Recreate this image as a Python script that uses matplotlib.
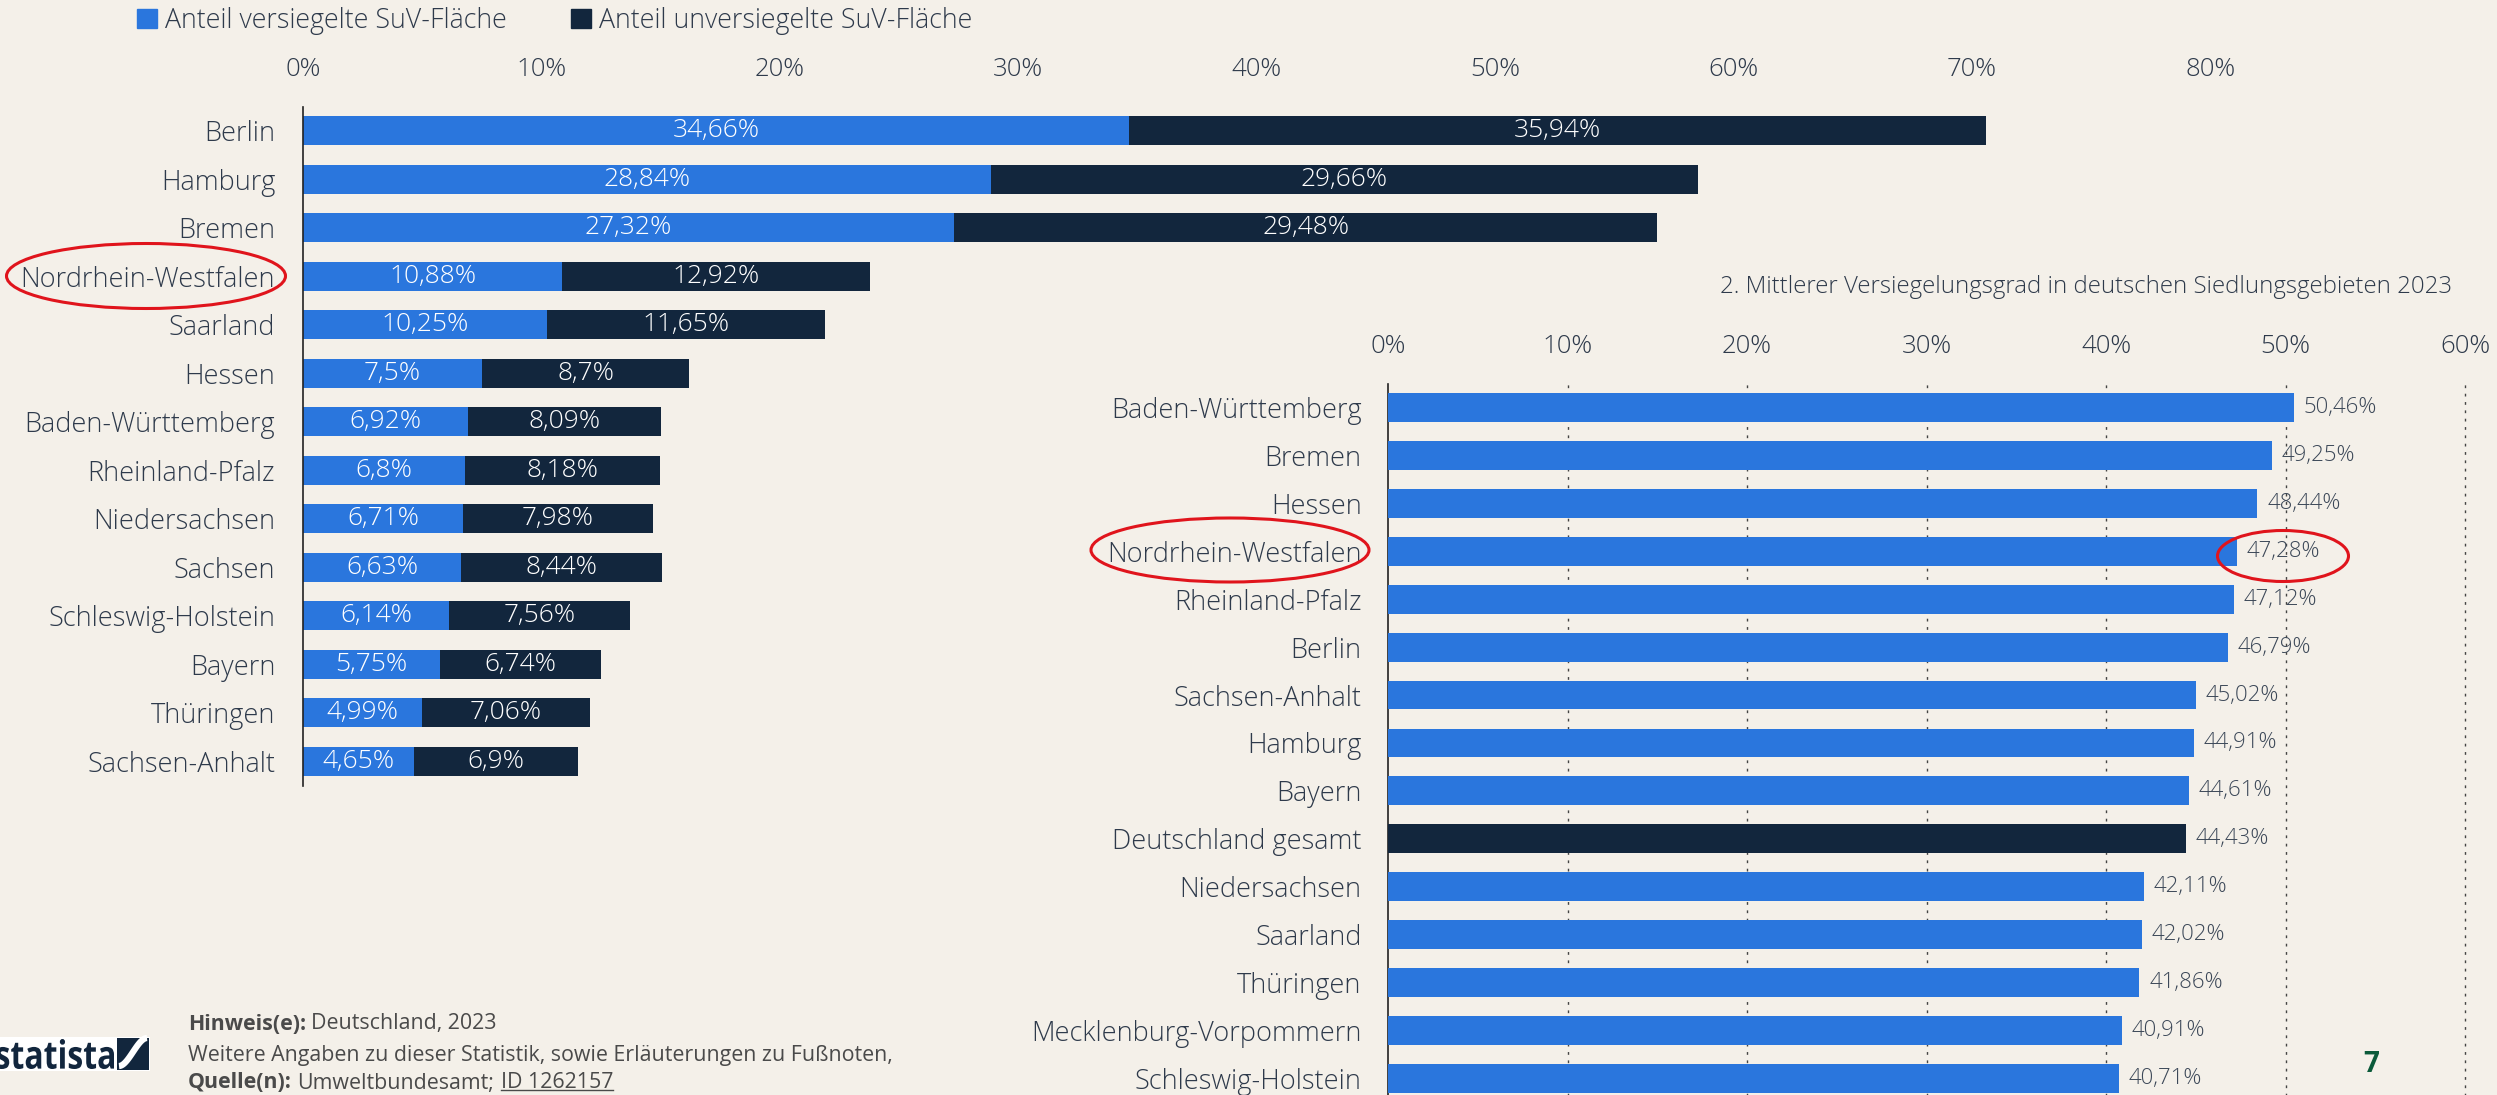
import matplotlib.pyplot as plt
from matplotlib.patches import Patch, Ellipse, Rectangle, PathPatch
from matplotlib.textpath import TextPath
from matplotlib.font_manager import FontProperties
from matplotlib.transforms import Affine2D
import numpy as np

W, H = 2497, 1095
BG = '#f4f0e9'
BLUE = '#2a76dd'
NAVY = '#12263d'
TXT = '#2e3a4b'

plt.rcParams['font.family'] = ['Open Sans', 'DejaVu Sans']

# chart 1: share of sealed / unsealed SuV area
left_states = ['Berlin', 'Hamburg', 'Bremen', 'Nordrhein-Westfalen', 'Saarland', 'Hessen',
               'Baden-Württemberg', 'Rheinland-Pfalz', 'Niedersachsen', 'Sachsen',
               'Schleswig-Holstein', 'Bayern', 'Thüringen', 'Sachsen-Anhalt']
sealed = [34.66, 28.84, 27.32, 10.88, 10.25, 7.5, 6.92, 6.8, 6.71, 6.63, 6.14, 5.75, 4.99, 4.65]
unsealed = [35.94, 29.66, 29.48, 12.92, 11.65, 8.7, 8.09, 8.18, 7.98, 8.44, 7.56, 6.74, 7.06, 6.9]
left_ticks = [0, 10, 20, 30, 40, 50, 60, 70, 80]

# chart 2: mean sealing degree
right_states = ['Baden-Württemberg', 'Bremen', 'Hessen', 'Nordrhein-Westfalen', 'Rheinland-Pfalz',
                'Berlin', 'Sachsen-Anhalt', 'Hamburg', 'Bayern', 'Deutschland gesamt',
                'Niedersachsen', 'Saarland', 'Thüringen', 'Mecklenburg-Vorpommern',
                'Schleswig-Holstein']
degree = [50.46, 49.25, 48.44, 47.28, 47.12, 46.79, 45.02, 44.91, 44.61, 44.43,
          42.11, 42.02, 41.86, 40.91, 40.71]
right_ticks = [0, 10, 20, 30, 40, 50, 60]


def fmt(v):
    return f"{v:g}".replace('.', ',') + '%'


def fx(px):
    return px / W


def fy(py):
    return 1 - py / H


fig = plt.figure(figsize=(W / 100, H / 100), dpi=100, facecolor=BG)

# ---- left chart
px10 = 238.4
row = 48.5
top = 106.5
ax1 = fig.add_axes([fx(303), fy(top + 14 * row), 8.5 * px10 / W, 14 * row / H])
ax1.set_facecolor('none')
y1 = np.arange(len(left_states))
ax1.barh(y1, sealed, height=0.6, color=BLUE)
ax1.barh(y1, unsealed, left=sealed, height=0.6, color=NAVY)
for i in range(len(y1)):
    ax1.text(sealed[i] / 2, i, fmt(sealed[i]), ha='center', va='center', color='white',
             fontsize=19, fontweight='light')
    ax1.text(sealed[i] + unsealed[i] / 2, i, fmt(unsealed[i]), ha='center', va='center',
             color='white', fontsize=19, fontweight='light')
ax1.set_xlim(0, 85)
ax1.set_ylim(13.5, -0.5)
ax1.set_yticks(y1)
ax1.set_yticklabels(left_states, fontweight='light')
ax1.set_xticks(left_ticks)
ax1.set_xticklabels([f"{t}%" for t in left_ticks], fontweight='light')
ax1.xaxis.set_ticks_position('top')
ax1.tick_params(axis='x', length=0, pad=18, labelsize=18.5, labelcolor=TXT)
ax1.tick_params(axis='y', length=0, pad=20, labelsize=19.5, labelcolor=TXT)
for s in ['top', 'right', 'bottom']:
    ax1.spines[s].set_visible(False)
ax1.spines['left'].set_color('#222222')
ax1.spines['left'].set_linewidth(1.2)

# ---- right chart
px10r = 179.5
rrow = 47.9
rtop = 383.7
ax2 = fig.add_axes([fx(1388), fy(rtop + 15.5 * rrow), 6.15 * px10r / W, 15.5 * rrow / H])
ax2.set_facecolor('none')
y2 = np.arange(len(right_states))
cols = [NAVY if s == 'Deutschland gesamt' else BLUE for s in right_states]
ax2.barh(y2, degree, height=0.6, color=cols, zorder=3)
for i, v in enumerate(degree):
    ax2.annotate(fmt(v), (v, i), xytext=(7, 0), textcoords='offset points',
                 ha='left', va='center', fontsize=16, color='#3c4858', zorder=4,
                 fontweight='light')
ax2.set_xlim(0, 61.5)
ax2.set_ylim(15.0, -0.5)
ax2.set_yticks(y2)
ax2.set_yticklabels(right_states, fontweight='light')
ax2.set_xticks(right_ticks)
ax2.set_xticklabels([f"{t}%" for t in right_ticks], fontweight='light')
ax2.xaxis.set_ticks_position('top')
ax2.tick_params(axis='x', length=0, pad=18, labelsize=18.5, labelcolor=TXT)
ax2.tick_params(axis='y', length=0, pad=19, labelsize=19.5, labelcolor=TXT)
for t in right_ticks[1:]:
    ax2.axvline(t, color='#444444', lw=1.0, ls=(0, (2, 4)), zorder=1)
for s in ['top', 'right', 'bottom']:
    ax2.spines[s].set_visible(False)
ax2.spines['left'].set_color('#222222')
ax2.spines['left'].set_linewidth(1.2)

fig.text(fx(2452), fy(287), '2. Mittlerer Versiegelungsgrad in deutschen Siedlungsgebieten 2023',
         ha='right', va='center', fontsize=17.3, color=TXT, fontweight='light')

# legend
handles = [Patch(color=BLUE, label='Anteil versiegelte SuV-Fläche'),
           Patch(color=NAVY, label='Anteil unversiegelte SuV-Fläche')]
leg = fig.legend(handles=handles, loc='center left', bbox_to_anchor=(fx(137), fy(21)), ncol=2,
                 frameon=False, fontsize=19.3, labelcolor=TXT, handlelength=0.75, handleheight=0.75,
                 handletextpad=0.3, columnspacing=2.4, borderpad=0, borderaxespad=0)
for t in leg.get_texts():
    t.set_fontweight('light')

# red circles
for cx, cy, w, h in [(146, 276, 279, 65), (1230, 550, 278, 64), (2283, 556, 131, 51)]:
    fig.add_artist(Ellipse((fx(cx), fy(cy)), w / W, h / H, transform=fig.transFigure,
                           fill=False, edgecolor='#e0141c', lw=2.2))

# footer logo
fig.add_artist(Rectangle((0, fy(1071)), fx(150), 34 / H, transform=fig.transFigure,
                         facecolor='white', edgecolor='none', zorder=1))
tp = TextPath((0, 0), 'statista', size=40, prop=FontProperties(family='Open Sans', weight='bold'))
ext = tp.get_extents()
sx = (114 + 4) / ext.width
sy = (1069 - 1039) / ext.height
tr = Affine2D().translate(-ext.x0, -ext.y0).scale(sx, sy).translate(-4, H - 1069)
fig.add_artist(PathPatch(tp, transform=tr, facecolor=NAVY, edgecolor='none', zorder=2))
fig.add_artist(Rectangle((fx(117), fy(1070)), 32 / W, 32 / H, transform=fig.transFigure,
                         facecolor=NAVY, edgecolor='none', zorder=2))
tt = np.linspace(0, 1, 30)
fig.add_artist(plt.Line2D(fx(119 + 28 * tt), fy(1066 - 28 * (3 * tt ** 2 - 2 * tt ** 3)),
                          transform=fig.transFigure, color='white', lw=4.5, zorder=3,
                          solid_capstyle='butt'))

# footer text
r = fig.canvas.get_renderer()
FOOT = '#4a4a4a'
fs = 15.4
t1 = fig.text(fx(188), fy(1024), 'Hinweis(e):', fontsize=fs, fontweight='bold', color=FOOT, va='center')
bb = t1.get_window_extent(r)
fig.text(fx(bb.x1 + 5), fy(1024), 'Deutschland, 2023', fontsize=fs, color=FOOT, va='center')
fig.text(fx(188), fy(1055), 'Weitere Angaben zu dieser Statistik, sowie Erläuterungen zu Fußnoten,',
         fontsize=fs, color=FOOT, va='center')
t3 = fig.text(fx(188), fy(1083), 'Quelle(n):', fontsize=fs, fontweight='bold', color=FOOT, va='center')
bb = t3.get_window_extent(r)
t4 = fig.text(fx(bb.x1 + 5), fy(1083), 'Umweltbundesamt;', fontsize=fs, color=FOOT, va='center')
bb = t4.get_window_extent(r)
t5 = fig.text(fx(bb.x1 + 7), fy(1083), 'ID 1262157', fontsize=fs, color=FOOT, va='center')
bb = t5.get_window_extent(r)
fig.add_artist(plt.Line2D([bb.x0 / W, bb.x1 / W], [(bb.y0 + 4) / H, (bb.y0 + 4) / H],
                          transform=fig.transFigure, color=FOOT, lw=1))

fig.text(fx(2371), fy(1064), '7', ha='center', va='center', fontsize=20, fontweight='bold', color='#0b5a3a')

fig.savefig('out.png', dpi=100, facecolor=BG)
